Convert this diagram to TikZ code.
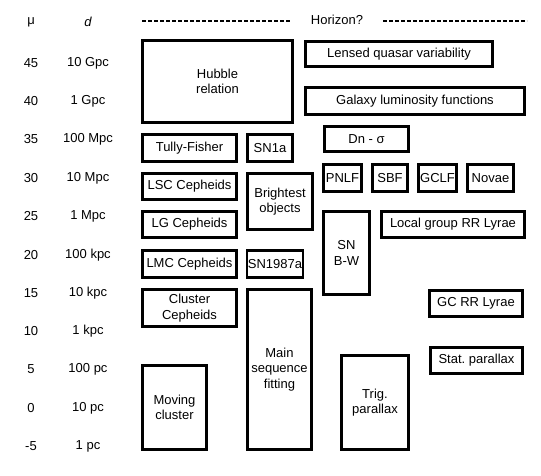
\documentclass[tikz,border=0pt]{standalone}
\usepackage{fontspec}
\setmainfont{Liberation Sans}
\usepackage{tikz}
\usetikzlibrary{positioning}

\begin{document}
\begin{tikzpicture}[x=1pt, y=-1pt,
    font=\fontsize{13}{15.5}\selectfont,
    method/.style={draw, line width=2.3pt, align=center, inner sep=1pt},
    scalelabel/.style={inner sep=0pt},
    horizon/.style={line width=2.6pt, dash pattern=on 3.5pt off 2.5pt}]
      \useasboundingbox (0,0) rectangle (541,476);

      % distance scale on the left
      \node (muhead) [scalelabel] at (31,22) {μ};
      \node (dhead) [scalelabel] at (88,22) {\itshape d};
      \node (mu45) [scalelabel] at (31,63) {45};
      \node (d45) [scalelabel] at (88,63) {10 Gpc};
      \node (mu40) [scalelabel] at (31,101) {40};
      \node (d40) [scalelabel] at (88,101) {1 Gpc};
      \node (mu35) [scalelabel] at (31,139) {35};
      \node (d35) [scalelabel] at (88,139) {100 Mpc};
      \node (mu30) [scalelabel] at (31,178) {30};
      \node (d30) [scalelabel] at (88,178) {10 Mpc};
      \node (mu25) [scalelabel] at (31,216) {25};
      \node (d25) [scalelabel] at (88,216) {1 Mpc};
      \node (mu20) [scalelabel] at (31,255) {20};
      \node (d20) [scalelabel] at (88,255) {100 kpc};
      \node (mu15) [scalelabel] at (31,293) {15};
      \node (d15) [scalelabel] at (88,293) {10 kpc};
      \node (mu10) [scalelabel] at (31,331) {10};
      \node (d10) [scalelabel] at (88,331) {1 kpc};
      \node (mu5) [scalelabel] at (31,369) {5};
      \node (d5) [scalelabel] at (88,369) {100 pc};
      \node (mu0) [scalelabel] at (31,408) {0};
      \node (d0) [scalelabel] at (88,408) {10 pc};
      \node (mum5) [scalelabel] at (31,446) {-5};
      \node (dm5) [scalelabel] at (88,446) {1 pc};

      % horizon
      \node (hz) [scalelabel] at (337,20) {Horizon?};
      \coordinate (hzl) at (142,21);
      \coordinate (hzm) at (291,21);
      \coordinate (hzs) at (383,21);
      \coordinate (hzr) at (527,21);
      \draw [horizon] (hzl) -- (hzm);
      \draw [horizon] (hzs) -- (hzr);

      % methods, left block
      \node (hub) [method, minimum width=150pt, minimum height=82pt] at (217.5,81.5) {Hubble\\relation};
      \node (tf) [method, minimum width=94pt, minimum height=27pt] at (189.5,148) {Tully-Fisher};
      \node (sn1a) [method, minimum width=45pt, minimum height=27pt] at (270,148) {SN1a};
      \node (lsc) [method, minimum width=94pt, minimum height=26pt] at (189.5,186.5) {LSC Cepheids};
      \node (bright) [method, minimum width=65pt, minimum height=56pt] at (280,201.5) {Brightest\\objects};
      \node (lg) [method, minimum width=94pt, minimum height=26pt] at (189.5,224.5) {LG Cepheids};
      \node (lmc) [method, minimum width=94pt, minimum height=27pt] at (189.5,264) {LMC Cepheids};
      \node (sn87) [method, minimum width=55pt, minimum height=27pt] at (275,264) {SN1987a};
      \node (clc) [method, minimum width=94pt, minimum height=37pt] at (189.5,308) {Cluster\\Cepheids};
      \node (mov) [method, minimum width=64pt, minimum height=84pt] at (174.5,407.5) {Moving\\cluster};
      \node (msf) [method, minimum width=64pt, minimum height=160pt] at (279.5,369.5) {Main\\sequence\\fitting};

      % methods, right block
      \node (lqv) [method, minimum width=187pt, minimum height=25pt] at (399,54) {Lensed quasar variability};
      \node (glf) [method, minimum width=219pt, minimum height=27pt] at (415,101) {Galaxy luminosity functions};
      \node (dns) [method, minimum width=84pt, minimum height=25pt] at (366.5,139) {Dn - σ};
      \node (pnlf) [method, minimum width=38pt, minimum height=27pt] at (342.5,178) {PNLF};
      \node (sbf) [method, minimum width=35pt, minimum height=27pt] at (390,178) {SBF};
      \node (gclf) [method, minimum width=38pt, minimum height=27pt] at (437.5,178) {GCLF};
      \node (nov) [method, minimum width=46pt, minimum height=27pt] at (490.5,178) {Novae};
      \node (snbw) [method, minimum width=46pt, minimum height=83pt] at (346.5,253) {SN\\B-W};
      \node (lgrr) [method, minimum width=143pt, minimum height=26pt] at (453,224.5) {Local group RR Lyrae};
      \node (gcrr) [method, minimum width=93pt, minimum height=26pt] at (476,303.5) {GC RR Lyrae};
      \node (stat) [method, minimum width=92pt, minimum height=26pt] at (476.5,360.5) {Stat.\ parallax};
      \node (trig) [method, minimum width=67pt, minimum height=94pt] at (375,402.5) {Trig.\\parallax};
\end{tikzpicture}
\end{document}
